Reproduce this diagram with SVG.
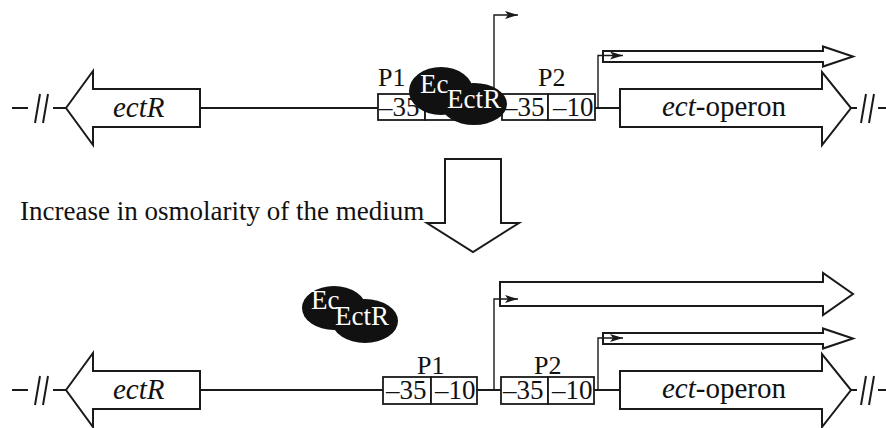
<svg xmlns="http://www.w3.org/2000/svg" width="886" height="428" viewBox="0 0 886 428">
<style>
  .ln { fill: none; stroke: #1a1a1a; stroke-width: 2; }
  .thin { fill: none; stroke: #1a1a1a; stroke-width: 1.4; }
  .blk { fill: #fff; stroke: #1a1a1a; stroke-width: 2; stroke-linejoin: miter; }
  .box { fill: #fff; stroke: #1a1a1a; stroke-width: 1.8; }
  .ell { fill: #111; }
  text { font-family: "Liberation Serif", "Times New Roman", serif; fill: #111; }
  .t27 { font-size: 27px; }
  .gene { font-size: 29px; }
  .lab { font-size: 26px; }
  .wt { fill: #fff; font-size: 27px; }
  .it { font-style: italic; }
</style>
<defs>
  <marker id="ah" markerUnits="userSpaceOnUse" markerWidth="14" markerHeight="10" viewBox="0 0 14 10" refX="13" refY="5" orient="auto">
    <path d="M0,1 L13,5 L0,9 L3,5 Z" fill="#1a1a1a"/>
  </marker>
</defs>

<!-- connectors / DNA backbone lines -->
<g id="connectors">
  <path class="ln" d="M12,108 H28 M53,108 H66 M200,108 H378 M595,108 H620 M851,108 H857 M878,108 H886"/>
  <path class="ln" d="M40,94 L35,123 M48,94 L43,123 M866,94 L861,123 M874,94 L869,123"/>
  <path class="ln" d="M12,390 H28 M53,390 H66 M200,390 H383 M477,390 H501 M594,390 H620 M851,390 H857 M878,390 H886"/>
  <path class="ln" d="M40,376 L35,405 M48,376 L43,405 M866,376 L861,405 M874,376 L869,405"/>
</g>

<g id="ectR-top">
  <polygon class="blk" points="66,108 93,71 93,89 200,89 200,127 93,127 93,145"/>
  <text class="gene it" x="113" y="117">ectR</text>
</g>
<g id="operon-top">
  <polygon class="blk" points="620,89 822,89 822,72 851,108 822,145 822,127 620,127"/>
  <text class="gene" x="662" y="116"><tspan class="it">ect</tspan>-operon</text>
</g>
<g id="transcript-top">
  <polygon class="blk" points="603,51 823,51 823,46.5 853,56.5 823,66.5 823,62 603,62"/>
</g>

<g id="P1-top">
  <text class="lab" x="378" y="86">P1</text>
  <rect class="box" x="378" y="94" width="47" height="26"/>
  <rect class="box" x="425" y="94" width="47" height="26"/>
  <text class="t27" x="379" y="116">–35</text>
</g>
<g id="P2-top">
  <text class="lab" x="538" y="86">P2</text>
  <rect class="box" x="502" y="94" width="46" height="26"/>
  <rect class="box" x="548" y="94" width="47" height="26"/>
  <text class="t27" x="504" y="116">–35</text>
  <text class="t27" x="553" y="116">–10</text>
</g>

<g id="promoters-top">
  <path class="thin" d="M494,108 V15 H518" marker-end="url(#ah)"/>
  <path class="thin" d="M598,108 V55.5 H623" marker-end="url(#ah)"/>
</g>

<g id="EctR-bound">
  <ellipse class="ell" cx="441" cy="91" rx="32" ry="24"/>
  <ellipse class="ell" cx="474" cy="104" rx="33" ry="21"/>
  <text class="wt" x="420" y="93">Ec</text>
  <text class="wt" x="447" y="108">EctR</text>
</g>

<g id="osmolarity">
  <text class="t27" x="20" y="220">Increase in osmolarity of the medium</text>
  <polygon class="blk" points="445,159 501,159 501,223 519,223 473,252 427,223 445,223"/>
</g>

<g id="EctR-free">
  <ellipse class="ell" cx="334" cy="308" rx="32" ry="22"/>
  <ellipse class="ell" cx="365" cy="321" rx="33" ry="22"/>
  <text class="wt" x="311" y="309">Ec</text>
  <text class="wt" x="335" y="325">EctR</text>
</g>

<g id="ectR-bottom">
  <polygon class="blk" points="66,390 93,353 93,371 200,371 200,409 93,409 93,427"/>
  <text class="gene it" x="113" y="399">ectR</text>
</g>
<g id="operon-bottom">
  <polygon class="blk" points="620,371 822,371 822,354 851,390 822,427 822,409 620,409"/>
  <text class="gene" x="662" y="398"><tspan class="it">ect</tspan>-operon</text>
</g>
<g id="transcript-long">
  <polygon class="blk" points="500,282 823,282 823,273 853,294 823,315 823,306 500,306"/>
</g>
<g id="transcript-bottom">
  <polygon class="blk" points="603,333 823,333 823,328.5 853,338.5 823,348.5 823,344 603,344"/>
</g>

<g id="P1-bottom">
  <text class="lab" x="417" y="374">P1</text>
  <rect class="box" x="383" y="377" width="48" height="27"/>
  <rect class="box" x="431" y="377" width="46" height="27"/>
  <text class="t27" x="386" y="399">–35</text>
  <text class="t27" x="435" y="399">–10</text>
</g>
<g id="P2-bottom">
  <text class="lab" x="534" y="374">P2</text>
  <rect class="box" x="501" y="377" width="47" height="27"/>
  <rect class="box" x="548" y="377" width="46" height="27"/>
  <text class="t27" x="503" y="399">–35</text>
  <text class="t27" x="552" y="399">–10</text>
</g>

<g id="promoters-bottom">
  <path class="thin" d="M494,390 V299 H518" marker-end="url(#ah)"/>
  <path class="thin" d="M598,390 V338 H623" marker-end="url(#ah)"/>
</g>
</svg>
